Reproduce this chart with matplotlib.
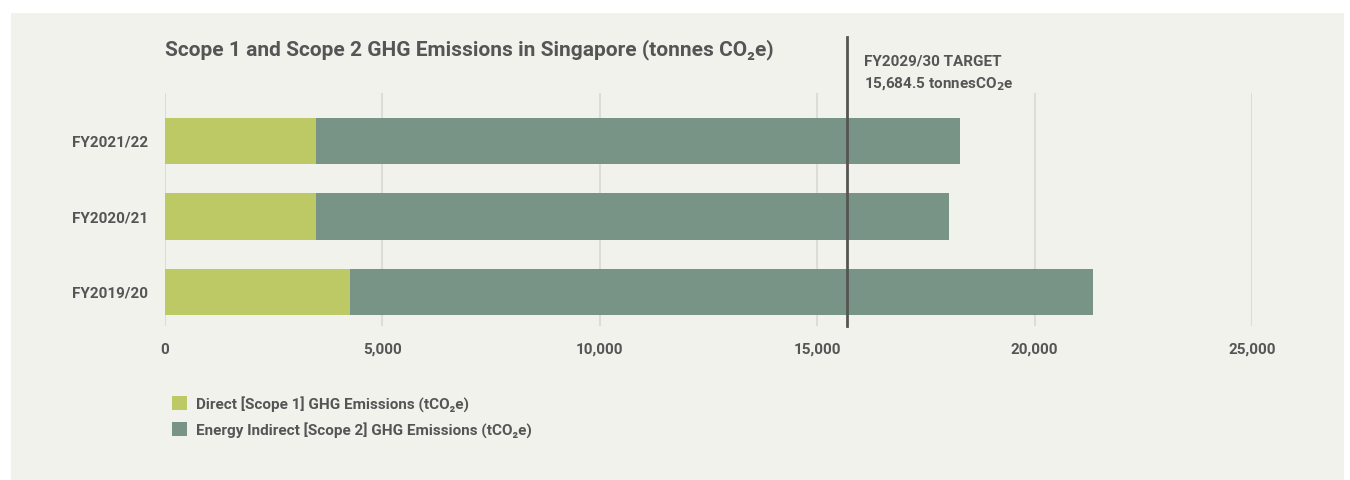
import matplotlib

matplotlib.use("Agg")
import matplotlib.pyplot as plt
from matplotlib.patches import Rectangle

# data
years = ["FY2019/20", "FY2020/21", "FY2021/22"]
scope1 = [4255, 3470, 3475]
totals = [21345, 18030, 18285]
scope2 = [t - s for t, s in zip(totals, scope1)]
target = 15684.5
xticks = [0, 5000, 10000, 15000, 20000, 25000]

GREEN = "#bcc964"
TEAL = "#789487"
BG = "#f2f2ed"
TXT = "#555555"

plt.rcParams["font.family"] = ["Liberation Sans Narrow", "Roboto", "DejaVu Sans"]
plt.rcParams["font.weight"] = "bold"

fig = plt.figure(figsize=(13.5, 4.8), dpi=100)
fig.patch.set_facecolor("white")
fig.add_artist(Rectangle((11 / 1350, 0), 1333 / 1350, 467 / 480,
                         transform=fig.transFigure, facecolor=BG, edgecolor="none", zorder=0))

ax = fig.add_axes([165 / 1350, 1 - 326 / 480, (1252 - 165) / 1350, (326 - 93) / 480])
ax.set_facecolor("none")

ypos = range(len(years))
ax.barh(ypos, scope1, height=0.61, color=GREEN, zorder=2,
        label="Direct [Scope 1] GHG Emissions (tCO₂e)")
ax.barh(ypos, scope2, left=scope1, height=0.61, color=TEAL, zorder=2,
        label="Energy Indirect [Scope 2] GHG Emissions (tCO₂e)")

ax.set_xlim(0, 25000)
ax.set_ylim(-0.45, 2.636)
ax.set_xticks(xticks)
ax.set_xticklabels([f"{v:,}" for v in xticks])
ax.set_yticks(list(ypos))
ax.set_yticklabels(years)
ax.tick_params(axis="both", length=0, labelsize=11, labelcolor=TXT)
ax.tick_params(axis="x", pad=12)
ax.tick_params(axis="y", pad=12)
ax.grid(axis="x", color="#dcdcd8", linewidth=1.5, zorder=1)
for s in ax.spines.values():
    s.set_visible(False)

# target line
ax.plot([target, target], [-0.45, 3.38], color="#555555", linewidth=2,
        zorder=3, clip_on=False)
ax.text(target + 400, 3.047, "FY2029/30 TARGET", fontsize=11, color=TXT,
        fontweight="bold", va="center", ha="left")
ax.text(target + 400, 2.755, "15,684.5 tonnesCO$_2$e", fontsize=11, color=TXT,
        fontweight="bold", va="center", ha="left")

fig.text(165 / 1350, 1 - 50 / 480,
         "Scope 1 and Scope 2 GHG Emissions in Singapore (tonnes CO₂e)",
         fontsize=15, color=TXT, fontweight="bold", va="center", ha="left")

leg = fig.legend(loc="upper left", bbox_to_anchor=(158 / 1350, 1 - 382 / 480),
                 frameon=False, fontsize=11, handlelength=1.0, handleheight=1.0,
                 handletextpad=0.6, labelspacing=0.65)
for t in leg.get_texts():
    t.set_color(TXT)

fig.savefig("out.png", dpi=100, facecolor=fig.get_facecolor())
